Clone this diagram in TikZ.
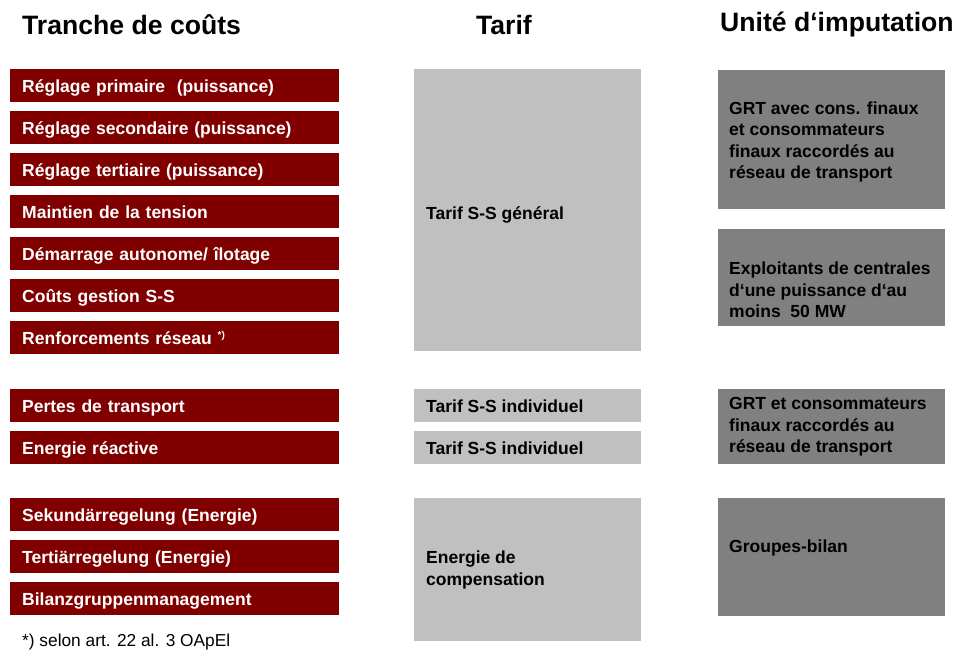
\documentclass[tikz,border=0pt]{standalone}
\usepackage{fontspec}
\setmainfont{Liberation Sans}
\usetikzlibrary{calc}
\definecolor{dred}{HTML}{800000}
\definecolor{lgray}{HTML}{C0C0C0}
\definecolor{dgray}{HTML}{808080}
\begin{document}
\begin{tikzpicture}[x=1pt,y=-1pt,
  cost/.style={fill=dred, text=white, anchor=north west, text width=305pt,
    inner xsep=12pt, inner ysep=0pt, minimum height=33pt, align=left,
    text height=14.5pt, text depth=0pt,
    font=\bfseries\fontsize{17.5}{20}\selectfont},
  tarifbox/.style={fill=lgray, anchor=north west, minimum width=227pt, inner sep=0pt},
  unitbox/.style={fill=dgray, anchor=north west, minimum width=227pt, inner sep=0pt},
  boxtext/.style={anchor=west, inner sep=0pt, align=left, text=black,
    font=\bfseries\fontsize{17.5}{21.5}\selectfont},
  title/.style={font=\bfseries\fontsize{26.6}{30}\selectfont, inner sep=0pt}
]
\useasboundingbox (0,0) rectangle (954,652);

% titles
\node[title, anchor=west] (t1) at (22,25) {Tranche de coûts};
\node[title] (t2) at (504,25) {Tarif};
\node[title, anchor=west] (t3) at (720,25) {Unité d‘imputation};

% cost slices
\node[cost] (c1) at (10,69) {Réglage primaire \ (puissance)};
\node[cost] (c2) at (10,111) {Réglage secondaire (puissance)};
\node[cost] (c3) at (10,153) {Réglage tertiaire (puissance)};
\node[cost] (c4) at (10,195) {Maintien de la tension};
\node[cost] (c5) at (10,237) {Démarrage autonome/ îlotage};
\node[cost] (c6) at (10,279) {Coûts gestion S-S};
\node[cost] (c7) at (10,321) {Renforcements réseau \textsuperscript{\fontsize{10}{10}\selectfont*)}};
\node[cost] (c8) at (10,389) {Pertes de transport};
\node[cost] (c9) at (10,431) {Energie réactive};
\node[cost] (c10) at (10,498) {Sekundärregelung (Energie)};
\node[cost] (c11) at (10,540) {Tertiärregelung (Energie)};
\node[cost] (c12) at (10,582) {Bilanzgruppenmanagement};

\node[anchor=west, inner sep=0pt, font=\fontsize{17.3}{20}\selectfont] (fn) at (22,642.5) {*) selon art. 22 al. 3 OApEl};

% tariff boxes
\node[tarifbox, minimum height=282pt] (g) at (414,69) {};
\node[boxtext] (gt) at (426,215) {Tarif S-S général};
\node[tarifbox, minimum height=33pt] (i1) at (414,389) {};
\node[boxtext] (i1t) at (426,406) {Tarif S-S individuel};
\node[tarifbox, minimum height=33pt] (i2) at (414,431) {};
\node[boxtext] (i2t) at (426,448) {Tarif S-S individuel};
\node[tarifbox, minimum height=143pt] (ec) at (414,498) {};
\node[boxtext] (ect) at (426,570) {Energie de\\compensation};

% unit boxes
\node[unitbox, minimum height=139pt] (u1) at (718,70) {};
\node[boxtext] (u1t) at (729,142) {GRT avec cons. finaux\\et consommateurs\\finaux raccordés au\\réseau de transport};
\node[unitbox, minimum height=97pt] (u2) at (718,229) {};
\node[boxtext] (u2t) at (729,290) {Exploitants de centrales\\d‘une puissance d‘au\\moins \ 50 MW};
\node[unitbox, minimum height=75pt] (u3) at (718,389) {};
\node[boxtext] (u3t) at (729,427) {GRT et consommateurs\\finaux raccordés au\\réseau de transport};
\node[unitbox, minimum height=118pt] (u4) at (718,498) {};
\node[boxtext] (u4t) at (729,548) {Groupes-bilan};
\end{tikzpicture}
\end{document}
